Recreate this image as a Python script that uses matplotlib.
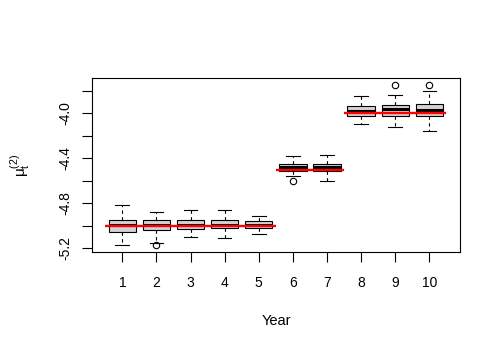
import numpy as np
import matplotlib
matplotlib.use("Agg")
import matplotlib.pyplot as plt

plt.rcParams['font.family'] = ['Liberation Sans', 'DejaVu Sans']
plt.rcParams['mathtext.default'] = 'regular'

# box summaries per year
years = [1, 2, 3, 4, 5, 6, 7, 8, 9, 10]
whis_lo = [-5.171, -5.153, -5.102, -5.111, -5.073, -4.557, -4.604, -4.095, -4.124, -4.157]
q1 = [-5.058, -5.040, -5.031, -5.022, -5.022, -4.513, -4.513, -4.024, -4.024, -4.024]
med = [-4.995, -4.995, -4.992, -4.990, -4.992, -4.478, -4.478, -3.982, -3.964, -3.971]
q3 = [-4.951, -4.951, -4.951, -4.951, -4.960, -4.451, -4.451, -3.938, -3.929, -3.920]
whis_hi = [-4.818, -4.875, -4.862, -4.862, -4.913, -4.380, -4.371, -3.846, -3.837, -3.804]
outliers = [[], [-5.173], [], [], [], [-4.604], [], [], [-3.746], [-3.746]]

# true values (red segments)
true_start = [0.5, 5.5, 7.5]
true_end = [5.5, 7.5, 10.5]
true_val = [-5.0, -4.5, -4.0]

ytick_vals = [-5.2, -5.0, -4.8, -4.6, -4.4, -4.2, -4.0, -3.8]
ytick_labels = ['-5.2', '', '-4.8', '', '-4.4', '', '-4.0', '']

stats = []
for i in range(len(years)):
    stats.append(dict(whislo=whis_lo[i], q1=q1[i], med=med[i], q3=q3[i],
                      whishi=whis_hi[i], fliers=outliers[i]))

fig = plt.figure(figsize=(5, 3.5), dpi=100)
ax = fig.add_axes([0.1846, 0.2791, 0.7348, 0.498])

ax.bxp(stats, positions=years, widths=0.8, patch_artist=True,
       boxprops=dict(facecolor='#D3D3D3', edgecolor='black', linewidth=0.8),
       whiskerprops=dict(linestyle=(0, (3, 3)), linewidth=0.8, color='black'),
       capprops=dict(linewidth=0.8, color='black'),
       capwidths=0.4,
       medianprops=dict(color='black', linewidth=2.2, solid_capstyle='butt'),
       flierprops=dict(marker='o', markerfacecolor='none', markeredgecolor='black',
                       markersize=4.6, markeredgewidth=0.8))

ax.hlines(true_val, true_start, true_end, colors='red', linewidth=1.7, zorder=5)

ax.set_xlim(0.12, 10.89)
ax.set_ylim(-5.236, -3.686)
ax.set_xticks(years)
ax.set_xticklabels([str(y) for y in years])
ax.set_yticks(ytick_vals)
ax.set_yticklabels(ytick_labels, rotation=90, va='center')

ax.tick_params(axis='both', direction='out', length=7, width=0.8, labelsize=10)
ax.tick_params(axis='x', pad=10)
ax.tick_params(axis='y', pad=7)
for s in ax.spines.values():
    s.set_linewidth(0.8)

ax.set_xlabel('Year', fontsize=10.5, labelpad=17)
ax.set_ylabel(r'$\mu_t^{(2)}$', fontsize=11)
ax.yaxis.set_label_coords(-0.165, 0.5)

fig.savefig('out.png', dpi=100)
